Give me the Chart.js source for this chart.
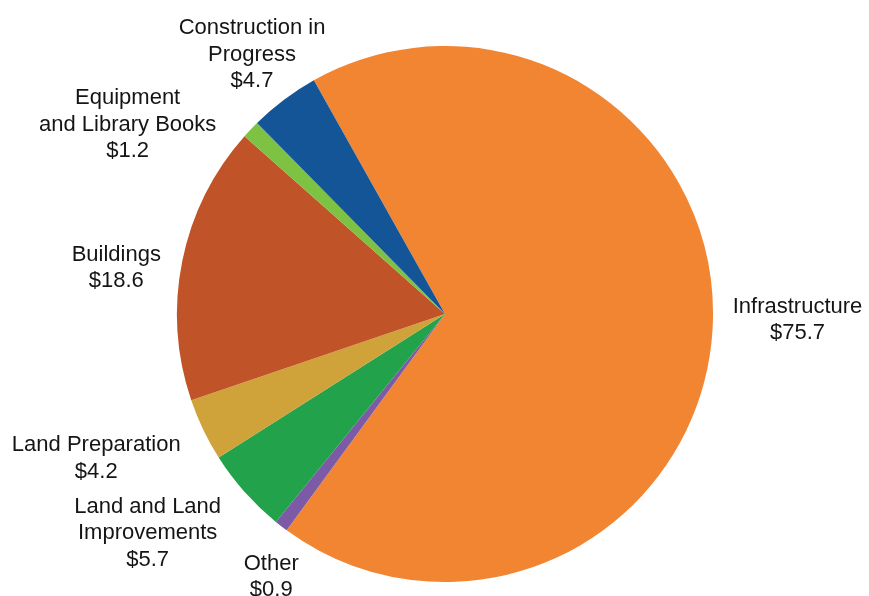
<!DOCTYPE html>
<html>
<head>
<meta charset="utf-8">
<script src="https://cdn.jsdelivr.net/npm/chart.js@4/dist/chart.umd.min.js"></script>
<style>
	html, body { margin: 0; padding: 0; background: #ffffff; }
	#wrap { width: 869px; height: 596px; position: relative; }
</style>
</head>
<body>
<div id="wrap"><canvas id="capital-assets-chart"></canvas></div>
<script>
// ── Data (clockwise, starting at Infrastructure) ─────────────
const categories = [
	[ 'Infrastructure' ],
	[ 'Other' ],
	[ 'Land and Land', 'Improvements' ],
	[ 'Land Preparation' ],
	[ 'Buildings' ],
	[ 'Equipment', 'and Library Books' ],
	[ 'Construction in', 'Progress' ],
];
const values = [ 75.7, 0.9, 5.7, 4.2, 18.6, 1.2, 4.7 ];

const sliceColors = [
	'#f28532', // Infrastructure
	'#7d5aa6', // Other
	'#22a24b', // Land and Land Improvements
	'#cfa23a', // Land Preparation
	'#c05327', // Buildings
	'#7dc242', // Equipment
	'#135597', // Construction in Progress
];

// label block nudges, relative to the slice's outer mid point
const labelNudges = [
	[ 85, -10 ],
	[ -10, 51 ],
	[ -97, 41 ],
	[ -107, 29 ],
	[ -66, 7 ],
	[ -123, -5 ],
	[ -32, -45 ],
];

( function () {
	'use strict';

	const outsideLabels = {
		id: 'outsideLabels',
		afterDatasetsDraw( chart ) {
			const { ctx } = chart;
			const meta = chart.getDatasetMeta( 0 );
			const lineHeight = 26.5;

			ctx.save();
			ctx.font = '22px "Liberation Sans", Arial, sans-serif';
			ctx.fillStyle = '#151515';
			ctx.textAlign = 'center';
			ctx.textBaseline = 'middle';

			meta.data.forEach( ( arc, i ) => {
				const mid = ( arc.startAngle + arc.endAngle ) / 2;
				const px = arc.x + Math.cos( mid ) * arc.outerRadius;
				const py = arc.y + Math.sin( mid ) * arc.outerRadius;
				const lines = [ ...categories[ i ], '$' + values[ i ].toFixed( 1 ) ];
				const cx = px + labelNudges[ i ][ 0 ];
				const cy = py + labelNudges[ i ][ 1 ];
				const top = cy - ( ( lines.length - 1 ) * lineHeight ) / 2;

				lines.forEach( ( line, j ) => {
					ctx.fillText( line, cx, top + j * lineHeight );
				} );
			} );

			ctx.restore();
		},
	};

	new Chart( document.getElementById( 'capital-assets-chart' ), {
		type: 'pie',
		data: {
			labels: categories.map( ( c ) => c.join( ' ' ) ),
			datasets: [
				{
					data: values,
					backgroundColor: sliceColors,
					borderWidth: 0,
				},
			],
		},
		options: {
			responsive: true,
			maintainAspectRatio: false,
			animation: false,
			rotation: -29.3,
			layout: {
				padding: { left: 177, right: 156, top: 46, bottom: 14 },
			},
			plugins: {
				legend: { display: false },
				tooltip: { enabled: false },
			},
		},
		plugins: [ outsideLabels ],
	} );
} )();
</script>
</body>
</html>
